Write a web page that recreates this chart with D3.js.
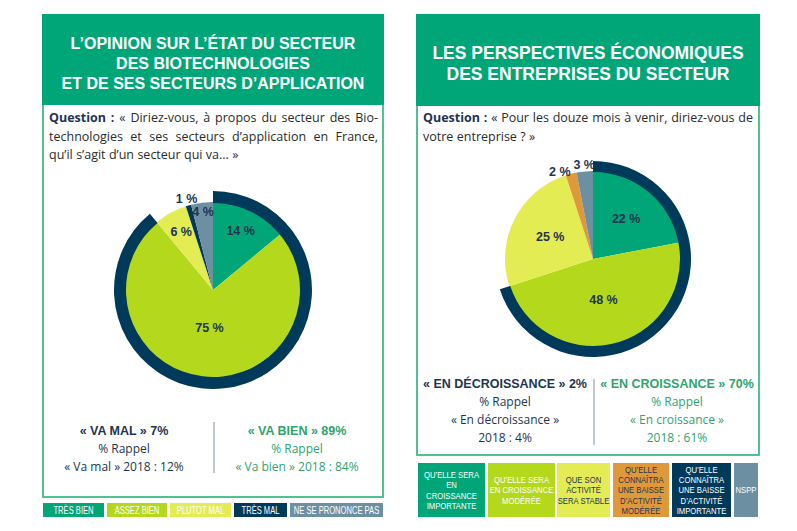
<!DOCTYPE html>
<html><head><meta charset="utf-8">
<script src="https://cdn.jsdelivr.net/npm/d3@7"></script>
<style>body{margin:0;background:#fff}svg{display:block}</style>
</head><body>
<svg id="c" width="797" height="531"></svg>
<script>
// ---------- DATA ----------
const leftCategories = ["TRÈS BIEN", "ASSEZ BIEN", "PLUTOT MAL", "TRÈS MAL", "NE SE PRONONCE PAS"];
const leftValues = [14, 75, 6, 1, 4];
const leftTitle = ["L’OPINION SUR L’ÉTAT DU SECTEUR", "DES BIOTECHNOLOGIES", "ET DE SES SECTEURS D’APPLICATION"];
const leftQuestion = [
  "**Question :** « Diriez-vous, à propos du secteur des Bio-",
  "technologies et ses secteurs d’application en France,",
  "qu’il s’agit d’un secteur qui va... »"];
const leftSummaryNeg = ["« VA MAL » 7%", "% Rappel", "« Va mal » 2018 : 12%"];
const leftSummaryPos = ["« VA BIEN » 89%", "% Rappel", "« Va bien » 2018 : 84%"];

const rightCategories = [
  ["QU’ELLE SERA", "EN", "CROISSANCE", "IMPORTANTE"],
  ["QU’ELLE SERA", "EN CROISSANCE", "MODÉRÉE"],
  ["QUE SON", "ACTIVITÉ", "SERA STABLE"],
  ["QU’ELLE", "CONNAÎTRA", "UNE BAISSE", "D’ACTIVITÉ", "MODÉRÉE"],
  ["QU’ELLE", "CONNAÎTRA", "UNE BAISSE", "D’ACTIVITÉ", "IMPORTANTE"],
  ["NSPP"]];
const rightValues = [22, 48, 25, 2, 0, 3];
const rightTitle = ["LES PERSPECTIVES ÉCONOMIQUES", "DES ENTREPRISES DU SECTEUR"];
const rightQuestion = [
  "**Question :** « Pour les douze mois à venir, diriez-vous de",
  "votre entreprise ? »"];
const rightSummaryNeg = ["« EN DÉCROISSANCE » 2%", "% Rappel", "« En décroissance »", "2018 : 4%"];
const rightSummaryPos = ["« EN CROISSANCE » 70%", "% Rappel", "« En croissance »", "2018 : 61%"];

// ---------- STYLE ----------
const C = {green:"#00a677", lime:"#b4d91c", yellow:"#e4ec54", navy:"#003a5b", gray:"#6d8fa2", orange:"#e0993a",
  border:"#4fc291", textNavy:"#1d3550", textGreen:"#2ea46e"};
const leftColors = [C.green, C.lime, C.yellow, C.navy, C.gray];
const rightColors = [C.green, C.lime, C.yellow, C.orange, C.navy, C.gray];
const rightLegendText = ["#fff", "#fff", C.textNavy, C.textNavy, "#fff", "#fff"];

const svg = d3.select("#c");
const SANS = "'Liberation Sans', Arial, sans-serif";
const BODY = "'Open Sans', 'Liberation Sans', sans-serif";

function panel(x0, x1, y0, yHead, y1, title, tsize, baselines) {
  svg.append("rect").attr("x", x0).attr("y", y0).attr("width", x1 - x0).attr("height", y1 - y0)
    .attr("fill", "#fff").attr("stroke", C.border).attr("stroke-width", 2);
  svg.append("rect").attr("x", x0 - 1).attr("y", y0 - 1).attr("width", x1 - x0 + 2).attr("height", yHead - y0 + 1)
    .attr("fill", C.green);
  title.forEach((t, i) => svg.append("text").attr("x", (x0 + x1) / 2).attr("y", baselines[i])
    .attr("text-anchor", "middle").attr("fill", "#fff").attr("font-family", SANS)
    .attr("font-weight", "bold").attr("font-size", tsize).text(t));
}

function question(lines, x0, x1, y, lh, fs) {
  lines.forEach((line, li) => {
    const toks = [];
    line.split(/(\*\*[^*]+\*\*)/).filter(s => s.length).forEach(seg => {
      const bold = seg.startsWith("**");
      const s = bold ? seg.slice(2, -2) : seg;
      s.split(" ").filter(w => w.length).forEach(w => toks.push({t: w, bold}));
    });
    const g = svg.append("g");
    const els = toks.map(tk => g.append("text").attr("y", y + li * lh).attr("font-family", BODY)
      .attr("font-size", fs).attr("font-weight", tk.bold ? "bold" : "normal")
      .attr("fill", tk.bold ? C.textNavy : "#2b2b2b").text(tk.t));
    const widths = els.map(e => e.node().getComputedTextLength());
    const sum = d3.sum(widths);
    const last = li === lines.length - 1;
    const gap = last ? fs * 0.27 : (x1 - x0 - sum) / (toks.length - 1);
    let x = x0;
    els.forEach((e, i) => { e.attr("x", x); x += widths[i] + gap; });
  });
}

function pie(cx, cy, values, colors, r, ringW, ringN, labelR, labelAnchor) {
  const g = svg.append("g").attr("transform", `translate(${cx},${cy})`);
  const pd = d3.pie().sort(null).value(d => d)(values);
  const arc = d3.arc().innerRadius(0).outerRadius(r);
  g.selectAll("path.s").data(pd).enter().append("path").attr("class", "s")
    .attr("d", arc).attr("fill", (d, i) => colors[i]);
  const ring = d3.arc().innerRadius(r - 1).outerRadius(r + ringW)
    .startAngle(0).endAngle(pd[ringN - 1].endAngle);
  g.append("path").attr("d", ring()).attr("fill", C.navy);
  pd.forEach((d, i) => {
    if (d.value === 0) return;
    const a = (d.startAngle + d.endAngle) / 2, lr = labelR[i];
    g.append("text").attr("x", Math.sin(a) * lr).attr("y", -Math.cos(a) * lr)
      .attr("text-anchor", labelAnchor[i]).attr("dominant-baseline", "central")
      .attr("font-family", SANS).attr("font-weight", "bold").attr("font-size", 12.5)
      .attr("fill", C.textNavy).text(d.value + " %");
  });
}

function summary(cx, lines, y, lh, color) {
  lines.forEach((t, i) => svg.append("text").attr("x", cx).attr("y", y + i * lh)
    .attr("text-anchor", "middle").attr("font-family", i === 0 ? SANS : BODY)
    .attr("font-weight", i === 0 ? "bold" : "normal").attr("font-size", i === 0 ? 12.5 : 12)
    .attr("fill", color).text(t));
}

function condText(x, y, t, fill, fs, sx, sy) {
  svg.append("text").attr("transform", `translate(${x},${y}) scale(${sx},${sy})`)
    .attr("text-anchor", "middle").attr("font-family", SANS).attr("font-size", fs)
    .attr("fill", fill).text(t);
}

// ---------- LEFT PANEL ----------
panel(43, 383, 15, 105, 497, leftTitle, 16, [49, 69, 89]);
question(leftQuestion, 49, 378, 122, 18.5, 12.5);
pie(213, 290, leftValues, leftColors, 88, 11, 2, [65, 38, 66, 95, 79],
  ["middle", "middle", "middle", "middle", "middle"]);
summary(124, leftSummaryNeg, 435, 18, C.textNavy);
summary(297, leftSummaryPos, 435, 18, C.textGreen);
svg.append("line").attr("x1", 214).attr("x2", 214).attr("y1", 422).attr("y2", 473)
  .attr("stroke", "#7f8fa0").attr("stroke-width", 1);

// left legend
const lx = d3.scaleOrdinal().domain(leftCategories).range([43, 107, 170, 234, 290]);
const lw = [61, 60, 61, 53, 93];
leftCategories.forEach((c, i) => {
  svg.append("rect").attr("x", lx(c)).attr("y", 503).attr("width", lw[i]).attr("height", 14).attr("fill", leftColors[i]);
  condText(lx(c) + lw[i] / 2, 514.2, c, "#fff", 11.5, 0.66, 1);
});

// ---------- RIGHT PANEL ----------
panel(417, 759, 15, 106, 455, rightTitle, 17.5, [59, 80]);
question(rightQuestion, 423, 753, 122, 19, 12.5);
pie(593, 259, rightValues, rightColors, 88, 10, 2, [52, 42, 48, 90, 0, 94],
  ["middle", "middle", "middle", "end", "middle", "middle"]);
summary(505, rightSummaryNeg, 388, 18, C.textNavy);
summary(677, rightSummaryPos, 388, 18, C.textGreen);
svg.append("line").attr("x1", 594).attr("x2", 594).attr("y1", 379).attr("y2", 445)
  .attr("stroke", "#7f8fa0").attr("stroke-width", 1);

// right legend
const rx = [418, 488, 557, 613, 672, 734];
const rw = [67, 67, 53, 56, 59, 24];
rightCategories.forEach((lines, i) => {
  svg.append("rect").attr("x", rx[i]).attr("y", 463).attr("width", rw[i]).attr("height", 54).attr("fill", rightColors[i]);
  const lh = 10.4, y0 = 490 - (lines.length - 1) * lh / 2 + 3.4;
  lines.forEach((t, j) => condText(rx[i] + rw[i] / 2, y0 + j * lh, t, rightLegendText[i], 11, 0.7, 0.8));
});
</script>
</body></html>
